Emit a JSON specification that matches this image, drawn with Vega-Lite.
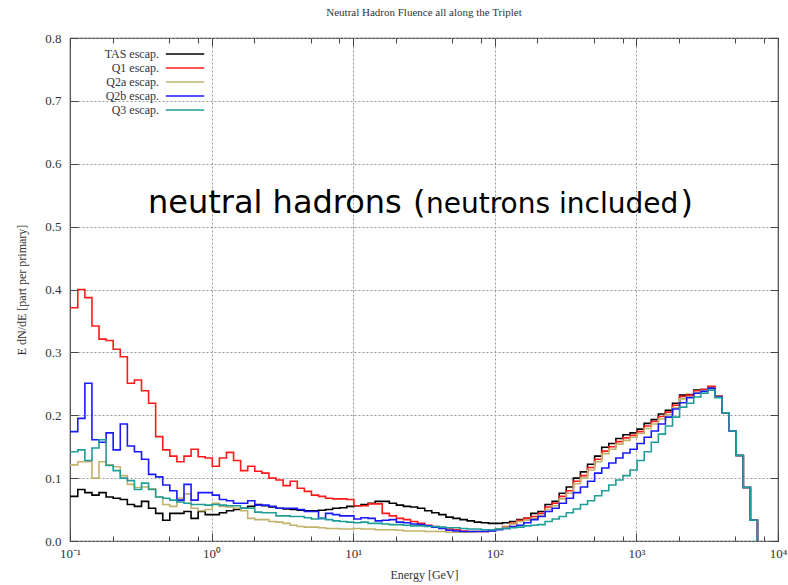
{
  "$schema": "https://vega.github.io/schema/vega-lite/v6.json",
  "width": 708,
  "height": 503,
  "autosize": {"type": "none"},
  "padding": {"left": 70, "top": 38, "right": 10, "bottom": 44},
  "background": "white",
  "config": {"view": {"stroke": "#444", "strokeWidth": 1.2}, "font": "Liberation Serif"},
  "title": {"text": "Neutral Hadron Fluence all along the Triplet", "font": "Liberation Serif", "fontSize": 11, "fontWeight": "normal", "color": "#333", "anchor": "middle", "offset": 14},
  "data": {"values": [
    {"E":0.1,"TAS":0.071,"Q1":0.371,"Q2a":0.121,"Q2b":0.174,"Q3":0.142},
    {"E":0.1135,"TAS":0.082,"Q1":0.400,"Q2a":0.126,"Q2b":0.195,"Q3":0.145},
    {"E":0.1274,"TAS":0.077,"Q1":0.387,"Q2a":0.126,"Q2b":0.251,"Q3":0.128},
    {"E":0.1429,"TAS":0.073,"Q1":0.342,"Q2a":0.100,"Q2b":0.161,"Q3":0.148},
    {"E":0.1603,"TAS":0.077,"Q1":0.321,"Q2a":0.126,"Q2b":0.157,"Q3":0.161},
    {"E":0.1799,"TAS":0.070,"Q1":0.319,"Q2a":0.121,"Q2b":0.172,"Q3":0.120},
    {"E":0.2018,"TAS":0.068,"Q1":0.305,"Q2a":0.118,"Q2b":0.145,"Q3":0.112},
    {"E":0.2265,"TAS":0.066,"Q1":0.293,"Q2a":0.104,"Q2b":0.186,"Q3":0.100},
    {"E":0.2541,"TAS":0.058,"Q1":0.251,"Q2a":0.090,"Q2b":0.151,"Q3":0.096},
    {"E":0.2851,"TAS":0.055,"Q1":0.256,"Q2a":0.085,"Q2b":0.142,"Q3":0.082},
    {"E":0.3199,"TAS":0.063,"Q1":0.239,"Q2a":0.086,"Q2b":0.130,"Q3":0.092},
    {"E":0.3589,"TAS":0.052,"Q1":0.219,"Q2a":0.083,"Q2b":0.106,"Q3":0.082},
    {"E":0.4027,"TAS":0.044,"Q1":0.166,"Q2a":0.070,"Q2b":0.102,"Q3":0.070},
    {"E":0.4519,"TAS":0.033,"Q1":0.145,"Q2a":0.058,"Q2b":0.089,"Q3":0.068},
    {"E":0.507,"TAS":0.044,"Q1":0.135,"Q2a":0.055,"Q2b":0.080,"Q3":0.065},
    {"E":0.5689,"TAS":0.044,"Q1":0.126,"Q2a":0.068,"Q2b":0.065,"Q3":0.062},
    {"E":0.6383,"TAS":0.047,"Q1":0.135,"Q2a":0.075,"Q2b":0.090,"Q3":0.060},
    {"E":0.7161,"TAS":0.036,"Q1":0.146,"Q2a":0.052,"Q2b":0.065,"Q3":0.058},
    {"E":0.8035,"TAS":0.047,"Q1":0.134,"Q2a":0.048,"Q2b":0.077,"Q3":0.058},
    {"E":0.9016,"TAS":0.042,"Q1":0.132,"Q2a":0.050,"Q2b":0.077,"Q3":0.057},
    {"E":1.0116,"TAS":0.042,"Q1":0.119,"Q2a":0.060,"Q2b":0.073,"Q3":0.058},
    {"E":1.135,"TAS":0.045,"Q1":0.132,"Q2a":0.055,"Q2b":0.066,"Q3":0.057},
    {"E":1.274,"TAS":0.048,"Q1":0.141,"Q2a":0.054,"Q2b":0.064,"Q3":0.056},
    {"E":1.429,"TAS":0.050,"Q1":0.128,"Q2a":0.052,"Q2b":0.060,"Q3":0.056},
    {"E":1.603,"TAS":0.052,"Q1":0.112,"Q2a":0.048,"Q2b":0.060,"Q3":0.052},
    {"E":1.799,"TAS":0.055,"Q1":0.119,"Q2a":0.036,"Q2b":0.064,"Q3":0.052},
    {"E":2.018,"TAS":0.058,"Q1":0.111,"Q2a":0.034,"Q2b":0.057,"Q3":0.046},
    {"E":2.265,"TAS":0.056,"Q1":0.108,"Q2a":0.034,"Q2b":0.057,"Q3":0.045},
    {"E":2.541,"TAS":0.054,"Q1":0.100,"Q2a":0.031,"Q2b":0.055,"Q3":0.045},
    {"E":2.851,"TAS":0.052,"Q1":0.097,"Q2a":0.030,"Q2b":0.052,"Q3":0.040},
    {"E":3.199,"TAS":0.051,"Q1":0.088,"Q2a":0.028,"Q2b":0.052,"Q3":0.040},
    {"E":3.589,"TAS":0.050,"Q1":0.095,"Q2a":0.025,"Q2b":0.052,"Q3":0.039},
    {"E":4.027,"TAS":0.049,"Q1":0.084,"Q2a":0.023,"Q2b":0.050,"Q3":0.039},
    {"E":4.519,"TAS":0.048,"Q1":0.079,"Q2a":0.022,"Q2b":0.047,"Q3":0.037},
    {"E":5.07,"TAS":0.048,"Q1":0.073,"Q2a":0.022,"Q2b":0.047,"Q3":0.035},
    {"E":5.689,"TAS":0.049,"Q1":0.071,"Q2a":0.021,"Q2b":0.036,"Q3":0.036},
    {"E":6.383,"TAS":0.050,"Q1":0.068,"Q2a":0.020,"Q2b":0.044,"Q3":0.034},
    {"E":7.161,"TAS":0.052,"Q1":0.067,"Q2a":0.020,"Q2b":0.042,"Q3":0.032},
    {"E":8.035,"TAS":0.053,"Q1":0.067,"Q2a":0.019,"Q2b":0.040,"Q3":0.031},
    {"E":9.016,"TAS":0.055,"Q1":0.066,"Q2a":0.019,"Q2b":0.040,"Q3":0.030},
    {"E":10.116,"TAS":0.056,"Q1":0.056,"Q2a":0.020,"Q2b":0.035,"Q3":0.029},
    {"E":11.35,"TAS":0.058,"Q1":0.056,"Q2a":0.019,"Q2b":0.037,"Q3":0.030},
    {"E":12.74,"TAS":0.060,"Q1":0.059,"Q2a":0.019,"Q2b":0.036,"Q3":0.028},
    {"E":14.29,"TAS":0.063,"Q1":0.059,"Q2a":0.018,"Q2b":0.032,"Q3":0.028},
    {"E":16.03,"TAS":0.063,"Q1":0.044,"Q2a":0.018,"Q2b":0.033,"Q3":0.027},
    {"E":17.99,"TAS":0.060,"Q1":0.040,"Q2a":0.018,"Q2b":0.034,"Q3":0.026},
    {"E":20.18,"TAS":0.057,"Q1":0.036,"Q2a":0.017,"Q2b":0.030,"Q3":0.026},
    {"E":22.65,"TAS":0.055,"Q1":0.034,"Q2a":0.016,"Q2b":0.029,"Q3":0.025},
    {"E":25.41,"TAS":0.054,"Q1":0.031,"Q2a":0.016,"Q2b":0.027,"Q3":0.024},
    {"E":28.51,"TAS":0.052,"Q1":0.028,"Q2a":0.016,"Q2b":0.026,"Q3":0.024},
    {"E":31.99,"TAS":0.048,"Q1":0.025,"Q2a":0.015,"Q2b":0.024,"Q3":0.023},
    {"E":35.89,"TAS":0.045,"Q1":0.023,"Q2a":0.015,"Q2b":0.022,"Q3":0.023},
    {"E":40.27,"TAS":0.042,"Q1":0.021,"Q2a":0.015,"Q2b":0.020,"Q3":0.022},
    {"E":45.19,"TAS":0.038,"Q1":0.019,"Q2a":0.014,"Q2b":0.017,"Q3":0.021},
    {"E":50.7,"TAS":0.036,"Q1":0.018,"Q2a":0.014,"Q2b":0.016,"Q3":0.021},
    {"E":56.89,"TAS":0.034,"Q1":0.016,"Q2a":0.014,"Q2b":0.015,"Q3":0.020},
    {"E":63.83,"TAS":0.032,"Q1":0.015,"Q2a":0.014,"Q2b":0.015,"Q3":0.019},
    {"E":71.61,"TAS":0.030,"Q1":0.015,"Q2a":0.015,"Q2b":0.015,"Q3":0.019},
    {"E":80.35,"TAS":0.029,"Q1":0.015,"Q2a":0.015,"Q2b":0.015,"Q3":0.018},
    {"E":90.16,"TAS":0.028,"Q1":0.016,"Q2a":0.016,"Q2b":0.016,"Q3":0.018},
    {"E":101.16,"TAS":0.028,"Q1":0.019,"Q2a":0.019,"Q2b":0.018,"Q3":0.019},
    {"E":113.5,"TAS":0.029,"Q1":0.023,"Q2a":0.022,"Q2b":0.020,"Q3":0.020},
    {"E":127.4,"TAS":0.031,"Q1":0.028,"Q2a":0.027,"Q2b":0.023,"Q3":0.021},
    {"E":142.9,"TAS":0.034,"Q1":0.033,"Q2a":0.031,"Q2b":0.025,"Q3":0.022},
    {"E":160.3,"TAS":0.036,"Q1":0.036,"Q2a":0.033,"Q2b":0.029,"Q3":0.024},
    {"E":179.9,"TAS":0.044,"Q1":0.039,"Q2a":0.036,"Q2b":0.034,"Q3":0.025},
    {"E":201.8,"TAS":0.047,"Q1":0.044,"Q2a":0.041,"Q2b":0.039,"Q3":0.026},
    {"E":226.5,"TAS":0.058,"Q1":0.054,"Q2a":0.050,"Q2b":0.047,"Q3":0.031},
    {"E":254.1,"TAS":0.063,"Q1":0.060,"Q2a":0.056,"Q2b":0.052,"Q3":0.035},
    {"E":285.1,"TAS":0.076,"Q1":0.071,"Q2a":0.067,"Q2b":0.060,"Q3":0.039},
    {"E":319.9,"TAS":0.086,"Q1":0.080,"Q2a":0.076,"Q2b":0.068,"Q3":0.045},
    {"E":358.9,"TAS":0.100,"Q1":0.095,"Q2a":0.091,"Q2b":0.077,"Q3":0.051},
    {"E":402.7,"TAS":0.110,"Q1":0.104,"Q2a":0.100,"Q2b":0.086,"Q3":0.058},
    {"E":451.9,"TAS":0.122,"Q1":0.117,"Q2a":0.113,"Q2b":0.095,"Q3":0.064},
    {"E":507,"TAS":0.135,"Q1":0.130,"Q2a":0.126,"Q2b":0.108,"Q3":0.072},
    {"E":568.9,"TAS":0.149,"Q1":0.143,"Q2a":0.139,"Q2b":0.116,"Q3":0.080},
    {"E":638.3,"TAS":0.155,"Q1":0.150,"Q2a":0.146,"Q2b":0.124,"Q3":0.089},
    {"E":716.1,"TAS":0.163,"Q1":0.158,"Q2a":0.154,"Q2b":0.132,"Q3":0.097},
    {"E":803.5,"TAS":0.169,"Q1":0.164,"Q2a":0.160,"Q2b":0.140,"Q3":0.104},
    {"E":901.6,"TAS":0.172,"Q1":0.168,"Q2a":0.165,"Q2b":0.146,"Q3":0.113},
    {"E":1011.6,"TAS":0.178,"Q1":0.174,"Q2a":0.171,"Q2b":0.155,"Q3":0.128},
    {"E":1135,"TAS":0.187,"Q1":0.183,"Q2a":0.179,"Q2b":0.165,"Q3":0.142},
    {"E":1274,"TAS":0.193,"Q1":0.190,"Q2a":0.186,"Q2b":0.175,"Q3":0.157},
    {"E":1429,"TAS":0.202,"Q1":0.198,"Q2a":0.194,"Q2b":0.186,"Q3":0.170},
    {"E":1603,"TAS":0.208,"Q1":0.205,"Q2a":0.201,"Q2b":0.197,"Q3":0.183},
    {"E":1799,"TAS":0.219,"Q1":0.216,"Q2a":0.212,"Q2b":0.210,"Q3":0.197},
    {"E":2018,"TAS":0.232,"Q1":0.230,"Q2a":0.226,"Q2b":0.220,"Q3":0.213},
    {"E":2265,"TAS":0.233,"Q1":0.232,"Q2a":0.229,"Q2b":0.228,"Q3":0.219},
    {"E":2541,"TAS":0.240,"Q1":0.239,"Q2a":0.236,"Q2b":0.235,"Q3":0.229},
    {"E":2851,"TAS":0.241,"Q1":0.241,"Q2a":0.239,"Q2b":0.238,"Q3":0.235},
    {"E":3199,"TAS":0.244,"Q1":0.246,"Q2a":0.243,"Q2b":0.243,"Q3":0.240},
    {"E":3589,"TAS":0.230,"Q1":0.230,"Q2a":0.229,"Q2b":0.229,"Q3":0.228},
    {"E":4027,"TAS":0.204,"Q1":0.204,"Q2a":0.204,"Q2b":0.204,"Q3":0.204},
    {"E":4519,"TAS":0.175,"Q1":0.175,"Q2a":0.175,"Q2b":0.175,"Q3":0.175},
    {"E":5070,"TAS":0.136,"Q1":0.136,"Q2a":0.136,"Q2b":0.136,"Q3":0.136},
    {"E":5689,"TAS":0.085,"Q1":0.085,"Q2a":0.085,"Q2b":0.085,"Q3":0.085},
    {"E":6383,"TAS":0.033,"Q1":0.033,"Q2a":0.033,"Q2b":0.033,"Q3":0.033},
    {"E":7161,"TAS":0,"Q1":0,"Q2a":0,"Q2b":0,"Q3":0}
  ]},
  "layer": [
    {
      "transform": [{"fold": ["TAS", "Q1", "Q2a", "Q2b", "Q3"], "as": ["series", "v"]}],
      "mark": {"type": "line", "interpolate": "step-after", "strokeWidth": 1.6, "clip": true},
      "encoding": {
        "x": {"field": "E", "type": "quantitative",
          "scale": {"type": "log", "domain": [0.1, 10000], "nice": false},
          "axis": {
            "orient": "bottom",
            "values": [0.1,0.2,0.5,0.8,1,2,5,8,10,20,50,80,100,200,500,800,1000,2000,5000,8000,10000],
            "labelExpr": "datum.value == 0.1 ? '10⁻¹' : datum.value == 1 ? '10⁰' : datum.value == 10 ? '10¹' : datum.value == 100 ? '10²' : datum.value == 1000 ? '10³' : datum.value == 10000 ? '10⁴' : ''",
            "labelFlush": false, "labelOverlap": false,
            "labelFont": "Liberation Serif", "labelFontSize": 13, "labelColor": "#333", "labelPadding": 14,
            "domain": false,
            "tickColor": "#444", "tickWidth": 1,
            "tickSize": {"condition": {"test": "datum.value == 0.1 || datum.value == 1 || datum.value == 10 || datum.value == 100 || datum.value == 1000 || datum.value == 10000", "value": -8}, "value": -5},
            "grid": true, "gridDash": [2, 2], "gridColor": "#999", "gridWidth": 1,
            "gridOpacity": {"condition": {"test": "datum.value == 1 || datum.value == 10 || datum.value == 100 || datum.value == 1000", "value": 1}, "value": 0},
            "title": "Energy [GeV]", "titleFont": "Liberation Serif", "titleFontSize": 12, "titleFontWeight": "normal", "titleColor": "#333", "titlePadding": 6
          }
        },
        "y": {"field": "v", "type": "quantitative",
          "scale": {"domain": [0, 0.8], "nice": false},
          "axis": {
            "orient": "left",
            "values": [0, 0.1, 0.2, 0.3, 0.4, 0.5, 0.6, 0.7, 0.8],
            "format": ".1f",
            "labelFont": "Liberation Serif", "labelFontSize": 13, "labelColor": "#333", "labelPadding": 17,
            "domain": false,
            "tickColor": "#444", "tickSize": -8,
            "grid": true, "gridDash": [2, 2], "gridColor": "#999", "gridWidth": 1,
            "title": "E dN/dE [part per primary]", "titleFont": "Liberation Serif", "titleFontSize": 12, "titleFontWeight": "normal", "titleColor": "#333", "titlePadding": 16
          }
        },
        "color": {"field": "series", "type": "nominal",
          "scale": {"domain": ["TAS", "Q1", "Q2a", "Q2b", "Q3"], "range": ["#000000", "#ff1a1a", "#c2b26a", "#1a1aff", "#1e9e98"]},
          "legend": {
            "orient": "none", "legendX": 108, "legendY": 9, "padding": 0,
            "title": null, "direction": "vertical",
            "symbolType": "M-3.2,0H3.2", "symbolSize": 144, "symbolStrokeWidth": 1.6,
            "labelExpr": "datum.label + ' escap.'",
            "labelAlign": "right", "labelOffset": -33,
            "labelFont": "Liberation Serif", "labelFontSize": 12, "labelColor": "#333",
            "rowPadding": 1
          }
        }
      }
    },
    {
      "mark": {"type": "point", "opacity": 0},
      "encoding": {
        "x": {"field": "E", "type": "quantitative",
          "axis": {
            "orient": "top", "title": null, "labels": false, "domain": false, "grid": false,
            "values": [0.1,0.2,0.5,0.8,1,2,5,8,10,20,50,80,100,200,500,800,1000,2000,5000,8000,10000],
            "tickColor": "#444",
            "tickSize": {"condition": {"test": "datum.value == 0.1 || datum.value == 1 || datum.value == 10 || datum.value == 100 || datum.value == 1000 || datum.value == 10000", "value": -8}, "value": -5}
          }
        },
        "y": {"field": "TAS", "type": "quantitative",
          "axis": {
            "orient": "right", "title": null, "labels": false, "domain": false, "grid": false,
            "values": [0, 0.1, 0.2, 0.3, 0.4, 0.5, 0.6, 0.7, 0.8],
            "tickColor": "#444", "tickSize": -8
          }
        }
      }
    },
    {
      "data": {"values": [{"t": "neutral hadrons"}]},
      "mark": {"type": "text", "font": "DejaVu Sans", "fontSize": 32, "align": "left", "baseline": "alphabetic", "color": "#000"},
      "encoding": {
        "x": {"datum": 0.3554, "type": "quantitative", "axis": null},
        "y": {"datum": 0.521, "type": "quantitative", "axis": null},
        "text": {"field": "t"}
      }
    },
    {
      "data": {"values": [{"t": "("}]},
      "mark": {"type": "text", "font": "DejaVu Sans", "fontSize": 32, "align": "left", "baseline": "alphabetic", "color": "#000"},
      "encoding": {
        "x": {"datum": 26.44, "type": "quantitative", "axis": null},
        "y": {"datum": 0.521, "type": "quantitative", "axis": null},
        "text": {"field": "t"}
      }
    },
    {
      "data": {"values": [{"t": "neutrons included"}]},
      "mark": {"type": "text", "font": "DejaVu Sans", "fontSize": 28, "align": "left", "baseline": "alphabetic", "color": "#000"},
      "encoding": {
        "x": {"datum": 32.67, "type": "quantitative", "axis": null},
        "y": {"datum": 0.521, "type": "quantitative", "axis": null},
        "text": {"field": "t"}
      }
    },
    {
      "data": {"values": [{"t": ")"}]},
      "mark": {"type": "text", "font": "DejaVu Sans", "fontSize": 32, "align": "right", "baseline": "alphabetic", "color": "#000"},
      "encoding": {
        "x": {"datum": 2510, "type": "quantitative", "axis": null},
        "y": {"datum": 0.521, "type": "quantitative", "axis": null},
        "text": {"field": "t"}
      }
    }
  ],
  "resolve": {"axis": {"x": "independent", "y": "independent"}}
}
